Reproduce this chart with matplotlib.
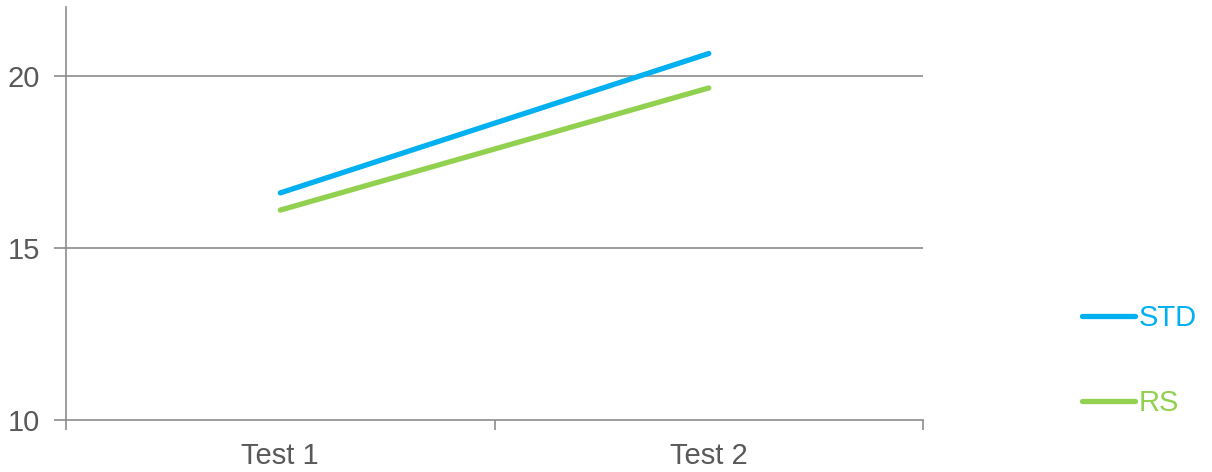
import matplotlib.pyplot as plt

plt.rcParams['font.family'] = ['Liberation Sans', 'DejaVu Sans']

# mean scores per test
tests = ['Test 1', 'Test 2']
std = [16.6, 20.65]
rs = [16.1, 19.65]

grey = '#595959'
fig = plt.figure(figsize=(12.12, 4.72), dpi=100)
ax = fig.add_axes([0.0545, 0.1102, 0.7071, 0.8748])

x = [0.5, 1.5]
ax.plot(x, std, color='#00B0F0', lw=3.8, solid_capstyle='round', label='STD')
ax.plot(x, rs, color='#92D050', lw=3.8, solid_capstyle='round', label='RS')

ax.set_xlim(0, 2)
ax.set_ylim(10, 22)
ax.set_yticks([10, 15, 20])
for y in [15, 20]:
    ax.axhline(y, color='#8c8c8c', lw=1.2, zorder=0)

# category boundaries as ticks, labels centred between them
ax.set_xticks([0, 1, 2])
ax.set_xticklabels([])
ax.set_xticks(x, minor=True)
ax.set_xticklabels(tests, minor=True)
ax.tick_params(axis='x', which='major', length=7, color='#8c8c8c', width=1.2)
ax.tick_params(axis='x', which='minor', length=0, pad=16, labelsize=21, labelcolor=grey)
ax.tick_params(axis='y', length=9, color='#8c8c8c', width=1.2, pad=10, labelsize=21, labelcolor=grey)

for s in ['top', 'right']:
    ax.spines[s].set_visible(False)
for s in ['left', 'bottom']:
    ax.spines[s].set_color('#8c8c8c')
    ax.spines[s].set_linewidth(1.2)

leg = ax.legend(loc='center left', bbox_to_anchor=(1.155, 0.144), frameon=False,
                fontsize=21, handlelength=1.8, handletextpad=0.15,
                labelspacing=1.95, labelcolor='linecolor')

fig.savefig('out.png', dpi=100)
